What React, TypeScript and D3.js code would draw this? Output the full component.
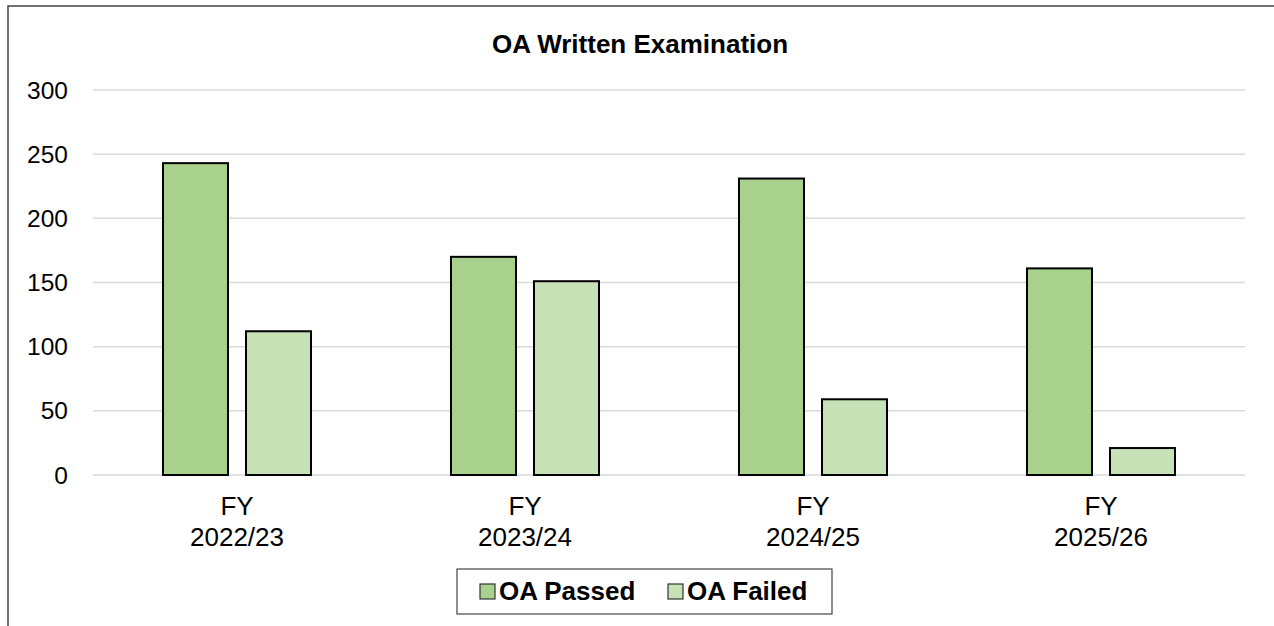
import React from "react";
import * as d3 from "d3";

const categories = ["2022/23", "2023/24", "2024/25", "2025/26"];
const seriesNames = ["OA Passed", "OA Failed"];
const passed = [243, 170, 231, 161];
const failed = [112, 151, 59, 21];
const yTicks = [0, 50, 100, 150, 200, 250, 300];

const width = 1274;
const height = 626;
const colors = ["#A9D18E", "#C8E2B8"];
const font = "'Liberation Sans', Arial, sans-serif";

const App = () => {
  const x0 = d3.scaleBand().domain(categories).range([93, 1245]).padding(0);
  const x1 = d3
    .scaleBand()
    .domain(seriesNames)
    .range([0, x0.bandwidth()])
    .paddingInner(0.217)
    .paddingOuter(0.843);
  const y = d3.scaleLinear().domain([0, 300]).range([475, 90]);
  const values = [passed, failed];

  const legendX = 457;
  const legendY = 569;

  return (
    <svg
      width={width}
      height={height}
      style={{ position: "absolute", left: 0, top: 0, fontFamily: font }}
    >
      <rect x={0} y={0} width={width} height={height} fill="white" />
      <rect
        x={8}
        y={6}
        width={width + 20}
        height={height + 20}
        fill="none"
        stroke="#444"
        strokeWidth={1.5}
      />
      <text
        x={640}
        y={53}
        textAnchor="middle"
        fontWeight="bold"
        fontSize={26}
        fill="#000"
      >
        OA Written Examination
      </text>

      {yTicks.map((t) => (
        <g key={t}>
          <line
            x1={93}
            x2={1245}
            y1={y(t)}
            y2={y(t)}
            stroke="#D9D9D9"
            strokeWidth={1.5}
          />
          <text
            x={68}
            y={y(t)}
            dy="0.35em"
            textAnchor="end"
            fontSize={24.5}
            fill="#000"
          >
            {t}
          </text>
        </g>
      ))}

      {categories.map((c, i) => (
        <g key={c} transform={`translate(${x0(c)},0)`}>
          {seriesNames.map((s, j) => (
            <rect
              key={s}
              x={x1(s)}
              y={y(values[j][i])}
              width={x1.bandwidth()}
              height={y(0) - y(values[j][i])}
              fill={colors[j]}
              stroke="#000"
              strokeWidth={2}
            />
          ))}
          <text
            x={x0.bandwidth() / 2}
            y={515}
            textAnchor="middle"
            fontSize={26}
            fill="#000"
          >
            FY
          </text>
          <text
            x={x0.bandwidth() / 2}
            y={546}
            textAnchor="middle"
            fontSize={26}
            fill="#000"
          >
            {c}
          </text>
        </g>
      ))}

      <rect
        x={legendX}
        y={legendY}
        width={375}
        height={45}
        fill="white"
        stroke="#444"
        strokeWidth={1.2}
      />
      {seriesNames.map((s, j) => {
        const lx = legendX + 23 + j * 188;
        return (
          <g key={s}>
            <rect
              x={lx}
              y={legendY + 15}
              width={15}
              height={15}
              fill={colors[j]}
              stroke="#333"
              strokeWidth={1.2}
            />
            <text
              x={lx + 19}
              y={legendY + 31}
              fontSize={26}
              fontWeight="bold"
              fill="#000"
            >
              {s}
            </text>
          </g>
        );
      })}
    </svg>
  );
};

export default App;
